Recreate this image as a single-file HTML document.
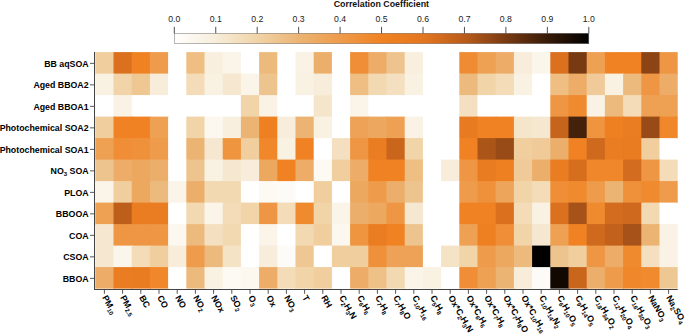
<!DOCTYPE html>
<html><head><meta charset="utf-8"><style>
html,body{margin:0;padding:0;background:#fff;}
body{width:685px;height:334px;position:relative;overflow:hidden;font-family:"Liberation Sans",sans-serif;}
.yl{position:absolute;right:0;font-weight:bold;font-size:8.8px;color:#000;white-space:nowrap;line-height:1;}
.xl{position:absolute;font-weight:bold;font-size:8.8px;color:#000;white-space:nowrap;line-height:1;transform-origin:0 0;transform:rotate(60deg);}
sub{font-size:6px;vertical-align:baseline;position:relative;top:1.8px;}
.cbl{position:absolute;font-size:8.7px;color:#222;white-space:nowrap;line-height:1;}
</style></head><body>

<div style="position:absolute;left:174.30px;top:33.30px;width:414.50px;height:10.30px;background:linear-gradient(to right,#ffffff 0.00%,#f7edda 10.00%,#f1d4a8 20.00%,#ecb473 30.00%,#ee9b4b 40.00%,#f08223 50.00%,#e47620 60.00%,#b95c1a 70.00%,#783a12 80.00%,#371b08 90.00%,#000000 100.00%)"></div>
<svg width="685" height="334" style="position:absolute;left:0;top:0">
<rect x="174.30" y="33.30" width="414.50" height="10.30" fill="none" stroke="#888" stroke-width="0.6"/>
<line x1="174.30" x2="174.30" y1="26.9" y2="33.30" stroke="#222" stroke-width="0.8"/>
<line x1="215.75" x2="215.75" y1="26.9" y2="33.30" stroke="#222" stroke-width="0.8"/>
<line x1="257.20" x2="257.20" y1="26.9" y2="33.30" stroke="#222" stroke-width="0.8"/>
<line x1="298.65" x2="298.65" y1="26.9" y2="33.30" stroke="#222" stroke-width="0.8"/>
<line x1="340.10" x2="340.10" y1="26.9" y2="33.30" stroke="#222" stroke-width="0.8"/>
<line x1="381.55" x2="381.55" y1="26.9" y2="33.30" stroke="#222" stroke-width="0.8"/>
<line x1="423.00" x2="423.00" y1="26.9" y2="33.30" stroke="#222" stroke-width="0.8"/>
<line x1="464.45" x2="464.45" y1="26.9" y2="33.30" stroke="#222" stroke-width="0.8"/>
<line x1="505.90" x2="505.90" y1="26.9" y2="33.30" stroke="#222" stroke-width="0.8"/>
<line x1="547.35" x2="547.35" y1="26.9" y2="33.30" stroke="#222" stroke-width="0.8"/>
<line x1="588.80" x2="588.80" y1="26.9" y2="33.30" stroke="#222" stroke-width="0.8"/>
<rect x="95.30" y="52.10" width="19.20" height="22.50" fill="#f0ce9d"/>
<rect x="113.50" y="52.10" width="19.20" height="22.50" fill="#db711f"/>
<rect x="131.70" y="52.10" width="19.20" height="22.50" fill="#f08223"/>
<rect x="149.90" y="52.10" width="19.20" height="22.50" fill="#ee9b4b"/>
<rect x="168.10" y="52.10" width="19.20" height="22.50" fill="#ffffff"/>
<rect x="186.30" y="52.10" width="19.20" height="22.50" fill="#eebe83"/>
<rect x="204.50" y="52.10" width="19.20" height="22.50" fill="#f8efde"/>
<rect x="222.70" y="52.10" width="19.20" height="22.50" fill="#faf4e9"/>
<rect x="240.90" y="52.10" width="19.20" height="22.50" fill="#ffffff"/>
<rect x="259.10" y="52.10" width="19.20" height="22.50" fill="#edba7e"/>
<rect x="277.30" y="52.10" width="19.20" height="22.50" fill="#ffffff"/>
<rect x="295.50" y="52.10" width="19.20" height="22.50" fill="#f9f2e5"/>
<rect x="313.70" y="52.10" width="19.20" height="22.50" fill="#ecaf6b"/>
<rect x="331.90" y="52.10" width="19.20" height="22.50" fill="#ffffff"/>
<rect x="350.10" y="52.10" width="19.20" height="22.50" fill="#ef8e37"/>
<rect x="368.30" y="52.10" width="19.20" height="22.50" fill="#edac67"/>
<rect x="386.50" y="52.10" width="19.20" height="22.50" fill="#eec48e"/>
<rect x="404.70" y="52.10" width="19.20" height="22.50" fill="#f8efde"/>
<rect x="422.90" y="52.10" width="19.20" height="22.50" fill="#ffffff"/>
<rect x="441.10" y="52.10" width="19.20" height="22.50" fill="#ffffff"/>
<rect x="459.30" y="52.10" width="19.20" height="22.50" fill="#ef8c33"/>
<rect x="477.50" y="52.10" width="19.20" height="22.50" fill="#eea053"/>
<rect x="495.70" y="52.10" width="19.20" height="22.50" fill="#edac67"/>
<rect x="513.90" y="52.10" width="19.20" height="22.50" fill="#f7edda"/>
<rect x="532.10" y="52.10" width="19.20" height="22.50" fill="#fbf6ec"/>
<rect x="550.30" y="52.10" width="19.20" height="22.50" fill="#db711f"/>
<rect x="568.50" y="52.10" width="19.20" height="22.50" fill="#783a12"/>
<rect x="586.70" y="52.10" width="19.20" height="22.50" fill="#eea053"/>
<rect x="604.90" y="52.10" width="19.20" height="22.50" fill="#f08223"/>
<rect x="623.10" y="52.10" width="19.20" height="22.50" fill="#f08223"/>
<rect x="641.30" y="52.10" width="19.20" height="22.50" fill="#8c4414"/>
<rect x="659.50" y="52.10" width="18.20" height="22.50" fill="#ee9643"/>
<rect x="95.30" y="73.60" width="19.20" height="22.50" fill="#f9f1e1"/>
<rect x="113.50" y="73.60" width="19.20" height="22.50" fill="#f1d4a8"/>
<rect x="131.70" y="73.60" width="19.20" height="22.50" fill="#efc793"/>
<rect x="149.90" y="73.60" width="19.20" height="22.50" fill="#f7edda"/>
<rect x="168.10" y="73.60" width="19.20" height="22.50" fill="#ffffff"/>
<rect x="186.30" y="73.60" width="19.20" height="22.50" fill="#f3dcb7"/>
<rect x="204.50" y="73.60" width="19.20" height="22.50" fill="#f9f1e1"/>
<rect x="222.70" y="73.60" width="19.20" height="22.50" fill="#f6e8d0"/>
<rect x="240.90" y="73.60" width="19.20" height="22.50" fill="#faf4e9"/>
<rect x="259.10" y="73.60" width="19.20" height="22.50" fill="#eec48e"/>
<rect x="277.30" y="73.60" width="19.20" height="22.50" fill="#ffffff"/>
<rect x="295.50" y="73.60" width="19.20" height="22.50" fill="#f9f1e1"/>
<rect x="313.70" y="73.60" width="19.20" height="22.50" fill="#f7edda"/>
<rect x="331.90" y="73.60" width="19.20" height="22.50" fill="#ffffff"/>
<rect x="350.10" y="73.60" width="19.20" height="22.50" fill="#eebe83"/>
<rect x="368.30" y="73.60" width="19.20" height="22.50" fill="#f2d9b2"/>
<rect x="386.50" y="73.60" width="19.20" height="22.50" fill="#f4e0c1"/>
<rect x="404.70" y="73.60" width="19.20" height="22.50" fill="#f9f1e1"/>
<rect x="422.90" y="73.60" width="19.20" height="22.50" fill="#ffffff"/>
<rect x="441.10" y="73.60" width="19.20" height="22.50" fill="#ffffff"/>
<rect x="459.30" y="73.60" width="19.20" height="22.50" fill="#edba7e"/>
<rect x="477.50" y="73.60" width="19.20" height="22.50" fill="#f1d4a8"/>
<rect x="495.70" y="73.60" width="19.20" height="22.50" fill="#f3dcb7"/>
<rect x="513.90" y="73.60" width="19.20" height="22.50" fill="#f9f1e1"/>
<rect x="532.10" y="73.60" width="19.20" height="22.50" fill="#ffffff"/>
<rect x="550.30" y="73.60" width="19.20" height="22.50" fill="#eebe83"/>
<rect x="568.50" y="73.60" width="19.20" height="22.50" fill="#edac67"/>
<rect x="586.70" y="73.60" width="19.20" height="22.50" fill="#f0ca98"/>
<rect x="604.90" y="73.60" width="19.20" height="22.50" fill="#f9f1e1"/>
<rect x="623.10" y="73.60" width="19.20" height="22.50" fill="#edba7e"/>
<rect x="641.30" y="73.60" width="19.20" height="22.50" fill="#ee9643"/>
<rect x="659.50" y="73.60" width="18.20" height="22.50" fill="#edac67"/>
<rect x="95.30" y="95.10" width="19.20" height="22.50" fill="#ffffff"/>
<rect x="113.50" y="95.10" width="19.20" height="22.50" fill="#f9f2e5"/>
<rect x="131.70" y="95.10" width="19.20" height="22.50" fill="#ffffff"/>
<rect x="149.90" y="95.10" width="19.20" height="22.50" fill="#ffffff"/>
<rect x="168.10" y="95.10" width="19.20" height="22.50" fill="#ffffff"/>
<rect x="186.30" y="95.10" width="19.20" height="22.50" fill="#ffffff"/>
<rect x="204.50" y="95.10" width="19.20" height="22.50" fill="#ffffff"/>
<rect x="222.70" y="95.10" width="19.20" height="22.50" fill="#ffffff"/>
<rect x="240.90" y="95.10" width="19.20" height="22.50" fill="#f1d4a8"/>
<rect x="259.10" y="95.10" width="19.20" height="22.50" fill="#f9f2e5"/>
<rect x="277.30" y="95.10" width="19.20" height="22.50" fill="#ffffff"/>
<rect x="295.50" y="95.10" width="19.20" height="22.50" fill="#ffffff"/>
<rect x="313.70" y="95.10" width="19.20" height="22.50" fill="#f5e6cb"/>
<rect x="331.90" y="95.10" width="19.20" height="22.50" fill="#ffffff"/>
<rect x="350.10" y="95.10" width="19.20" height="22.50" fill="#faf4e9"/>
<rect x="368.30" y="95.10" width="19.20" height="22.50" fill="#ffffff"/>
<rect x="386.50" y="95.10" width="19.20" height="22.50" fill="#ffffff"/>
<rect x="404.70" y="95.10" width="19.20" height="22.50" fill="#ffffff"/>
<rect x="422.90" y="95.10" width="19.20" height="22.50" fill="#ffffff"/>
<rect x="441.10" y="95.10" width="19.20" height="22.50" fill="#ffffff"/>
<rect x="459.30" y="95.10" width="19.20" height="22.50" fill="#f4e0c1"/>
<rect x="477.50" y="95.10" width="19.20" height="22.50" fill="#ffffff"/>
<rect x="495.70" y="95.10" width="19.20" height="22.50" fill="#ffffff"/>
<rect x="513.90" y="95.10" width="19.20" height="22.50" fill="#ffffff"/>
<rect x="532.10" y="95.10" width="19.20" height="22.50" fill="#ffffff"/>
<rect x="550.30" y="95.10" width="19.20" height="22.50" fill="#ee9643"/>
<rect x="568.50" y="95.10" width="19.20" height="22.50" fill="#ef8a2f"/>
<rect x="586.70" y="95.10" width="19.20" height="22.50" fill="#f9f2e5"/>
<rect x="604.90" y="95.10" width="19.20" height="22.50" fill="#edba7e"/>
<rect x="623.10" y="95.10" width="19.20" height="22.50" fill="#f3dcb7"/>
<rect x="641.30" y="95.10" width="19.20" height="22.50" fill="#eea053"/>
<rect x="659.50" y="95.10" width="18.20" height="22.50" fill="#eea053"/>
<rect x="95.30" y="116.60" width="19.20" height="22.50" fill="#f0ce9d"/>
<rect x="113.50" y="116.60" width="19.20" height="22.50" fill="#f08223"/>
<rect x="131.70" y="116.60" width="19.20" height="22.50" fill="#f08223"/>
<rect x="149.90" y="116.60" width="19.20" height="22.50" fill="#eea053"/>
<rect x="168.10" y="116.60" width="19.20" height="22.50" fill="#ffffff"/>
<rect x="186.30" y="116.60" width="19.20" height="22.50" fill="#f1d4a8"/>
<rect x="204.50" y="116.60" width="19.20" height="22.50" fill="#fcf8f0"/>
<rect x="222.70" y="116.60" width="19.20" height="22.50" fill="#f8efde"/>
<rect x="240.90" y="116.60" width="19.20" height="22.50" fill="#ecb473"/>
<rect x="259.10" y="116.60" width="19.20" height="22.50" fill="#ee8022"/>
<rect x="277.30" y="116.60" width="19.20" height="22.50" fill="#f7edda"/>
<rect x="295.50" y="116.60" width="19.20" height="22.50" fill="#ecb473"/>
<rect x="313.70" y="116.60" width="19.20" height="22.50" fill="#f9f1e1"/>
<rect x="331.90" y="116.60" width="19.20" height="22.50" fill="#ffffff"/>
<rect x="350.10" y="116.60" width="19.20" height="22.50" fill="#eda257"/>
<rect x="368.30" y="116.60" width="19.20" height="22.50" fill="#eda85f"/>
<rect x="386.50" y="116.60" width="19.20" height="22.50" fill="#eea053"/>
<rect x="404.70" y="116.60" width="19.20" height="22.50" fill="#f9f2e5"/>
<rect x="422.90" y="116.60" width="19.20" height="22.50" fill="#ffffff"/>
<rect x="441.10" y="116.60" width="19.20" height="22.50" fill="#ffffff"/>
<rect x="459.30" y="116.60" width="19.20" height="22.50" fill="#e87a21"/>
<rect x="477.50" y="116.60" width="19.20" height="22.50" fill="#f08223"/>
<rect x="495.70" y="116.60" width="19.20" height="22.50" fill="#f08223"/>
<rect x="513.90" y="116.60" width="19.20" height="22.50" fill="#f5e6cb"/>
<rect x="532.10" y="116.60" width="19.20" height="22.50" fill="#f6e8d0"/>
<rect x="550.30" y="116.60" width="19.20" height="22.50" fill="#c6641c"/>
<rect x="568.50" y="116.60" width="19.20" height="22.50" fill="#44210a"/>
<rect x="586.70" y="116.60" width="19.20" height="22.50" fill="#ef943f"/>
<rect x="604.90" y="116.60" width="19.20" height="22.50" fill="#ee8022"/>
<rect x="623.10" y="116.60" width="19.20" height="22.50" fill="#ea7c22"/>
<rect x="641.30" y="116.60" width="19.20" height="22.50" fill="#984b16"/>
<rect x="659.50" y="116.60" width="18.20" height="22.50" fill="#f0872b"/>
<rect x="95.30" y="138.10" width="19.20" height="22.50" fill="#eea053"/>
<rect x="113.50" y="138.10" width="19.20" height="22.50" fill="#ef8e37"/>
<rect x="131.70" y="138.10" width="19.20" height="22.50" fill="#ef913b"/>
<rect x="149.90" y="138.10" width="19.20" height="22.50" fill="#ee9b4b"/>
<rect x="168.10" y="138.10" width="19.20" height="22.50" fill="#ffffff"/>
<rect x="186.30" y="138.10" width="19.20" height="22.50" fill="#ecb473"/>
<rect x="204.50" y="138.10" width="19.20" height="22.50" fill="#f6e8d0"/>
<rect x="222.70" y="138.10" width="19.20" height="22.50" fill="#ef943f"/>
<rect x="240.90" y="138.10" width="19.20" height="22.50" fill="#f0ce9d"/>
<rect x="259.10" y="138.10" width="19.20" height="22.50" fill="#f0872b"/>
<rect x="277.30" y="138.10" width="19.20" height="22.50" fill="#f9f1e1"/>
<rect x="295.50" y="138.10" width="19.20" height="22.50" fill="#f08223"/>
<rect x="313.70" y="138.10" width="19.20" height="22.50" fill="#ffffff"/>
<rect x="331.90" y="138.10" width="19.20" height="22.50" fill="#f4e0c1"/>
<rect x="350.10" y="138.10" width="19.20" height="22.50" fill="#ee9643"/>
<rect x="368.30" y="138.10" width="19.20" height="22.50" fill="#ea7c22"/>
<rect x="386.50" y="138.10" width="19.20" height="22.50" fill="#ca661c"/>
<rect x="404.70" y="138.10" width="19.20" height="22.50" fill="#f1d4a8"/>
<rect x="422.90" y="138.10" width="19.20" height="22.50" fill="#ffffff"/>
<rect x="441.10" y="138.10" width="19.20" height="22.50" fill="#ffffff"/>
<rect x="459.30" y="138.10" width="19.20" height="22.50" fill="#f08223"/>
<rect x="477.50" y="138.10" width="19.20" height="22.50" fill="#ac5518"/>
<rect x="495.70" y="138.10" width="19.20" height="22.50" fill="#984b16"/>
<rect x="513.90" y="138.10" width="19.20" height="22.50" fill="#f0ce9d"/>
<rect x="532.10" y="138.10" width="19.20" height="22.50" fill="#f0ca98"/>
<rect x="550.30" y="138.10" width="19.20" height="22.50" fill="#ecaf6b"/>
<rect x="568.50" y="138.10" width="19.20" height="22.50" fill="#f08223"/>
<rect x="586.70" y="138.10" width="19.20" height="22.50" fill="#ce691d"/>
<rect x="604.90" y="138.10" width="19.20" height="22.50" fill="#ea7c22"/>
<rect x="623.10" y="138.10" width="19.20" height="22.50" fill="#e97b21"/>
<rect x="641.30" y="138.10" width="19.20" height="22.50" fill="#f0ce9d"/>
<rect x="659.50" y="138.10" width="18.20" height="22.50" fill="#ffffff"/>
<rect x="95.30" y="159.60" width="19.20" height="22.50" fill="#eec48e"/>
<rect x="113.50" y="159.60" width="19.20" height="22.50" fill="#edac67"/>
<rect x="131.70" y="159.60" width="19.20" height="22.50" fill="#eda85f"/>
<rect x="149.90" y="159.60" width="19.20" height="22.50" fill="#ecaf6b"/>
<rect x="168.10" y="159.60" width="19.20" height="22.50" fill="#ffffff"/>
<rect x="186.30" y="159.60" width="19.20" height="22.50" fill="#eec48e"/>
<rect x="204.50" y="159.60" width="19.20" height="22.50" fill="#f9f1e1"/>
<rect x="222.70" y="159.60" width="19.20" height="22.50" fill="#f6e8d0"/>
<rect x="240.90" y="159.60" width="19.20" height="22.50" fill="#f7edda"/>
<rect x="259.10" y="159.60" width="19.20" height="22.50" fill="#eda85f"/>
<rect x="277.30" y="159.60" width="19.20" height="22.50" fill="#f08223"/>
<rect x="295.50" y="159.60" width="19.20" height="22.50" fill="#edac67"/>
<rect x="313.70" y="159.60" width="19.20" height="22.50" fill="#fdfaf4"/>
<rect x="331.90" y="159.60" width="19.20" height="22.50" fill="#f0ce9d"/>
<rect x="350.10" y="159.60" width="19.20" height="22.50" fill="#edac67"/>
<rect x="368.30" y="159.60" width="19.20" height="22.50" fill="#f08223"/>
<rect x="386.50" y="159.60" width="19.20" height="22.50" fill="#f08223"/>
<rect x="404.70" y="159.60" width="19.20" height="22.50" fill="#eebe83"/>
<rect x="422.90" y="159.60" width="19.20" height="22.50" fill="#ffffff"/>
<rect x="441.10" y="159.60" width="19.20" height="22.50" fill="#f7edda"/>
<rect x="459.30" y="159.60" width="19.20" height="22.50" fill="#ee9643"/>
<rect x="477.50" y="159.60" width="19.20" height="22.50" fill="#e97b21"/>
<rect x="495.70" y="159.60" width="19.20" height="22.50" fill="#ee8022"/>
<rect x="513.90" y="159.60" width="19.20" height="22.50" fill="#f0ca98"/>
<rect x="532.10" y="159.60" width="19.20" height="22.50" fill="#ecaf6b"/>
<rect x="550.30" y="159.60" width="19.20" height="22.50" fill="#ea7c22"/>
<rect x="568.50" y="159.60" width="19.20" height="22.50" fill="#d76e1e"/>
<rect x="586.70" y="159.60" width="19.20" height="22.50" fill="#f0872b"/>
<rect x="604.90" y="159.60" width="19.20" height="22.50" fill="#f0872b"/>
<rect x="623.10" y="159.60" width="19.20" height="22.50" fill="#d36c1e"/>
<rect x="641.30" y="159.60" width="19.20" height="22.50" fill="#ee9643"/>
<rect x="659.50" y="159.60" width="18.20" height="22.50" fill="#f3dcb7"/>
<rect x="95.30" y="181.10" width="19.20" height="22.50" fill="#faf4e9"/>
<rect x="113.50" y="181.10" width="19.20" height="22.50" fill="#f0ce9d"/>
<rect x="131.70" y="181.10" width="19.20" height="22.50" fill="#eda85f"/>
<rect x="149.90" y="181.10" width="19.20" height="22.50" fill="#edba7e"/>
<rect x="168.10" y="181.10" width="19.20" height="22.50" fill="#faf4e9"/>
<rect x="186.30" y="181.10" width="19.20" height="22.50" fill="#ecaf6b"/>
<rect x="204.50" y="181.10" width="19.20" height="22.50" fill="#f2d9b2"/>
<rect x="222.70" y="181.10" width="19.20" height="22.50" fill="#f2d9b2"/>
<rect x="240.90" y="181.10" width="19.20" height="22.50" fill="#ffffff"/>
<rect x="259.10" y="181.10" width="19.20" height="22.50" fill="#fdfaf4"/>
<rect x="277.30" y="181.10" width="19.20" height="22.50" fill="#fdfbf8"/>
<rect x="295.50" y="181.10" width="19.20" height="22.50" fill="#ffffff"/>
<rect x="313.70" y="181.10" width="19.20" height="22.50" fill="#f0ce9d"/>
<rect x="331.90" y="181.10" width="19.20" height="22.50" fill="#ffffff"/>
<rect x="350.10" y="181.10" width="19.20" height="22.50" fill="#eda85f"/>
<rect x="368.30" y="181.10" width="19.20" height="22.50" fill="#ee9b4b"/>
<rect x="386.50" y="181.10" width="19.20" height="22.50" fill="#ecaf6b"/>
<rect x="404.70" y="181.10" width="19.20" height="22.50" fill="#eec48e"/>
<rect x="422.90" y="181.10" width="19.20" height="22.50" fill="#ffffff"/>
<rect x="441.10" y="181.10" width="19.20" height="22.50" fill="#ffffff"/>
<rect x="459.30" y="181.10" width="19.20" height="22.50" fill="#ee9b4b"/>
<rect x="477.50" y="181.10" width="19.20" height="22.50" fill="#ef913b"/>
<rect x="495.70" y="181.10" width="19.20" height="22.50" fill="#eda55b"/>
<rect x="513.90" y="181.10" width="19.20" height="22.50" fill="#f1d4a8"/>
<rect x="532.10" y="181.10" width="19.20" height="22.50" fill="#f3dcb7"/>
<rect x="550.30" y="181.10" width="19.20" height="22.50" fill="#ef8e37"/>
<rect x="568.50" y="181.10" width="19.20" height="22.50" fill="#ef8a2f"/>
<rect x="586.70" y="181.10" width="19.20" height="22.50" fill="#ee9b4b"/>
<rect x="604.90" y="181.10" width="19.20" height="22.50" fill="#ecb473"/>
<rect x="623.10" y="181.10" width="19.20" height="22.50" fill="#ef913b"/>
<rect x="641.30" y="181.10" width="19.20" height="22.50" fill="#ef8a2f"/>
<rect x="659.50" y="181.10" width="18.20" height="22.50" fill="#ee9b4b"/>
<rect x="95.30" y="202.60" width="19.20" height="22.50" fill="#eea053"/>
<rect x="113.50" y="202.60" width="19.20" height="22.50" fill="#bd5f1b"/>
<rect x="131.70" y="202.60" width="19.20" height="22.50" fill="#ea7c22"/>
<rect x="149.90" y="202.60" width="19.20" height="22.50" fill="#ea7c22"/>
<rect x="168.10" y="202.60" width="19.20" height="22.50" fill="#ffffff"/>
<rect x="186.30" y="202.60" width="19.20" height="22.50" fill="#f2d9b2"/>
<rect x="204.50" y="202.60" width="19.20" height="22.50" fill="#faf4e9"/>
<rect x="222.70" y="202.60" width="19.20" height="22.50" fill="#f3dcb7"/>
<rect x="240.90" y="202.60" width="19.20" height="22.50" fill="#f1d4a8"/>
<rect x="259.10" y="202.60" width="19.20" height="22.50" fill="#ee9643"/>
<rect x="277.30" y="202.60" width="19.20" height="22.50" fill="#f3dcb7"/>
<rect x="295.50" y="202.60" width="19.20" height="22.50" fill="#ef8a2f"/>
<rect x="313.70" y="202.60" width="19.20" height="22.50" fill="#f1d4a8"/>
<rect x="331.90" y="202.60" width="19.20" height="22.50" fill="#faf4e9"/>
<rect x="350.10" y="202.60" width="19.20" height="22.50" fill="#ecaf6b"/>
<rect x="368.30" y="202.60" width="19.20" height="22.50" fill="#eda85f"/>
<rect x="386.50" y="202.60" width="19.20" height="22.50" fill="#ee9643"/>
<rect x="404.70" y="202.60" width="19.20" height="22.50" fill="#f6e8d0"/>
<rect x="422.90" y="202.60" width="19.20" height="22.50" fill="#ffffff"/>
<rect x="441.10" y="202.60" width="19.20" height="22.50" fill="#ffffff"/>
<rect x="459.30" y="202.60" width="19.20" height="22.50" fill="#f08223"/>
<rect x="477.50" y="202.60" width="19.20" height="22.50" fill="#f08223"/>
<rect x="495.70" y="202.60" width="19.20" height="22.50" fill="#db711f"/>
<rect x="513.90" y="202.60" width="19.20" height="22.50" fill="#f3dcb7"/>
<rect x="532.10" y="202.60" width="19.20" height="22.50" fill="#f9f1e1"/>
<rect x="550.30" y="202.60" width="19.20" height="22.50" fill="#db711f"/>
<rect x="568.50" y="202.60" width="19.20" height="22.50" fill="#a65218"/>
<rect x="586.70" y="202.60" width="19.20" height="22.50" fill="#ef8a2f"/>
<rect x="604.90" y="202.60" width="19.20" height="22.50" fill="#d36c1e"/>
<rect x="623.10" y="202.60" width="19.20" height="22.50" fill="#ce691d"/>
<rect x="641.30" y="202.60" width="19.20" height="22.50" fill="#f2d9b2"/>
<rect x="659.50" y="202.60" width="18.20" height="22.50" fill="#ffffff"/>
<rect x="95.30" y="224.10" width="19.20" height="22.50" fill="#f6e8d0"/>
<rect x="113.50" y="224.10" width="19.20" height="22.50" fill="#ee9643"/>
<rect x="131.70" y="224.10" width="19.20" height="22.50" fill="#ee9643"/>
<rect x="149.90" y="224.10" width="19.20" height="22.50" fill="#ee9643"/>
<rect x="168.10" y="224.10" width="19.20" height="22.50" fill="#fcf8f0"/>
<rect x="186.30" y="224.10" width="19.20" height="22.50" fill="#edba7e"/>
<rect x="204.50" y="224.10" width="19.20" height="22.50" fill="#f4e0c1"/>
<rect x="222.70" y="224.10" width="19.20" height="22.50" fill="#f2d9b2"/>
<rect x="240.90" y="224.10" width="19.20" height="22.50" fill="#ffffff"/>
<rect x="259.10" y="224.10" width="19.20" height="22.50" fill="#faf4e9"/>
<rect x="277.30" y="224.10" width="19.20" height="22.50" fill="#ffffff"/>
<rect x="295.50" y="224.10" width="19.20" height="22.50" fill="#f2d9b2"/>
<rect x="313.70" y="224.10" width="19.20" height="22.50" fill="#f0ce9d"/>
<rect x="331.90" y="224.10" width="19.20" height="22.50" fill="#fcf8f0"/>
<rect x="350.10" y="224.10" width="19.20" height="22.50" fill="#ef943f"/>
<rect x="368.30" y="224.10" width="19.20" height="22.50" fill="#ea7c22"/>
<rect x="386.50" y="224.10" width="19.20" height="22.50" fill="#f08223"/>
<rect x="404.70" y="224.10" width="19.20" height="22.50" fill="#eec48e"/>
<rect x="422.90" y="224.10" width="19.20" height="22.50" fill="#ffffff"/>
<rect x="441.10" y="224.10" width="19.20" height="22.50" fill="#ffffff"/>
<rect x="459.30" y="224.10" width="19.20" height="22.50" fill="#eea053"/>
<rect x="477.50" y="224.10" width="19.20" height="22.50" fill="#ee8022"/>
<rect x="495.70" y="224.10" width="19.20" height="22.50" fill="#ef8e37"/>
<rect x="513.90" y="224.10" width="19.20" height="22.50" fill="#f1d4a8"/>
<rect x="532.10" y="224.10" width="19.20" height="22.50" fill="#f6e8d0"/>
<rect x="550.30" y="224.10" width="19.20" height="22.50" fill="#eea053"/>
<rect x="568.50" y="224.10" width="19.20" height="22.50" fill="#f08223"/>
<rect x="586.70" y="224.10" width="19.20" height="22.50" fill="#ce691d"/>
<rect x="604.90" y="224.10" width="19.20" height="22.50" fill="#c2611b"/>
<rect x="623.10" y="224.10" width="19.20" height="22.50" fill="#a65218"/>
<rect x="641.30" y="224.10" width="19.20" height="22.50" fill="#ecb473"/>
<rect x="659.50" y="224.10" width="18.20" height="22.50" fill="#f9f2e5"/>
<rect x="95.30" y="245.60" width="19.20" height="22.50" fill="#f6e8d0"/>
<rect x="113.50" y="245.60" width="19.20" height="22.50" fill="#fbf6ec"/>
<rect x="131.70" y="245.60" width="19.20" height="22.50" fill="#f3dcb7"/>
<rect x="149.90" y="245.60" width="19.20" height="22.50" fill="#f0ce9d"/>
<rect x="168.10" y="245.60" width="19.20" height="22.50" fill="#f7edda"/>
<rect x="186.30" y="245.60" width="19.20" height="22.50" fill="#ee9b4b"/>
<rect x="204.50" y="245.60" width="19.20" height="22.50" fill="#edba7e"/>
<rect x="222.70" y="245.60" width="19.20" height="22.50" fill="#f5e3c6"/>
<rect x="240.90" y="245.60" width="19.20" height="22.50" fill="#ffffff"/>
<rect x="259.10" y="245.60" width="19.20" height="22.50" fill="#f7edda"/>
<rect x="277.30" y="245.60" width="19.20" height="22.50" fill="#fdfbf8"/>
<rect x="295.50" y="245.60" width="19.20" height="22.50" fill="#efc793"/>
<rect x="313.70" y="245.60" width="19.20" height="22.50" fill="#ffffff"/>
<rect x="331.90" y="245.60" width="19.20" height="22.50" fill="#f0ce9d"/>
<rect x="350.10" y="245.60" width="19.20" height="22.50" fill="#f0ce9d"/>
<rect x="368.30" y="245.60" width="19.20" height="22.50" fill="#ef913b"/>
<rect x="386.50" y="245.60" width="19.20" height="22.50" fill="#eda257"/>
<rect x="404.70" y="245.60" width="19.20" height="22.50" fill="#eda257"/>
<rect x="422.90" y="245.60" width="19.20" height="22.50" fill="#ffffff"/>
<rect x="441.10" y="245.60" width="19.20" height="22.50" fill="#f5e3c6"/>
<rect x="459.30" y="245.60" width="19.20" height="22.50" fill="#f1d4a8"/>
<rect x="477.50" y="245.60" width="19.20" height="22.50" fill="#ee9b4b"/>
<rect x="495.70" y="245.60" width="19.20" height="22.50" fill="#eda85f"/>
<rect x="513.90" y="245.60" width="19.20" height="22.50" fill="#edba7e"/>
<rect x="532.10" y="245.60" width="19.20" height="22.50" fill="#000000"/>
<rect x="550.30" y="245.60" width="19.20" height="22.50" fill="#eec48e"/>
<rect x="568.50" y="245.60" width="19.20" height="22.50" fill="#f0ce9d"/>
<rect x="586.70" y="245.60" width="19.20" height="22.50" fill="#ee9643"/>
<rect x="604.90" y="245.60" width="19.20" height="22.50" fill="#edac67"/>
<rect x="623.10" y="245.60" width="19.20" height="22.50" fill="#ef8a2f"/>
<rect x="641.30" y="245.60" width="19.20" height="22.50" fill="#f4e0c1"/>
<rect x="659.50" y="245.60" width="18.20" height="22.50" fill="#f9f2e5"/>
<rect x="95.30" y="267.10" width="19.20" height="21.50" fill="#edac67"/>
<rect x="113.50" y="267.10" width="19.20" height="21.50" fill="#ea7c22"/>
<rect x="131.70" y="267.10" width="19.20" height="21.50" fill="#e97b21"/>
<rect x="149.90" y="267.10" width="19.20" height="21.50" fill="#f0872b"/>
<rect x="168.10" y="267.10" width="19.20" height="21.50" fill="#ffffff"/>
<rect x="186.30" y="267.10" width="19.20" height="21.50" fill="#edba7e"/>
<rect x="204.50" y="267.10" width="19.20" height="21.50" fill="#f9f1e1"/>
<rect x="222.70" y="267.10" width="19.20" height="21.50" fill="#fdfaf4"/>
<rect x="240.90" y="267.10" width="19.20" height="21.50" fill="#fcf8f0"/>
<rect x="259.10" y="267.10" width="19.20" height="21.50" fill="#edac67"/>
<rect x="277.30" y="267.10" width="19.20" height="21.50" fill="#f3dcb7"/>
<rect x="295.50" y="267.10" width="19.20" height="21.50" fill="#f1d4a8"/>
<rect x="313.70" y="267.10" width="19.20" height="21.50" fill="#f0ce9d"/>
<rect x="331.90" y="267.10" width="19.20" height="21.50" fill="#ffffff"/>
<rect x="350.10" y="267.10" width="19.20" height="21.50" fill="#edac67"/>
<rect x="368.30" y="267.10" width="19.20" height="21.50" fill="#eec188"/>
<rect x="386.50" y="267.10" width="19.20" height="21.50" fill="#f2d9b2"/>
<rect x="404.70" y="267.10" width="19.20" height="21.50" fill="#faf4e9"/>
<rect x="422.90" y="267.10" width="19.20" height="21.50" fill="#f9f1e1"/>
<rect x="441.10" y="267.10" width="19.20" height="21.50" fill="#ffffff"/>
<rect x="459.30" y="267.10" width="19.20" height="21.50" fill="#ef8e37"/>
<rect x="477.50" y="267.10" width="19.20" height="21.50" fill="#eea053"/>
<rect x="495.70" y="267.10" width="19.20" height="21.50" fill="#ecb473"/>
<rect x="513.90" y="267.10" width="19.20" height="21.50" fill="#f7edda"/>
<rect x="532.10" y="267.10" width="19.20" height="21.50" fill="#fdfbf8"/>
<rect x="550.30" y="267.10" width="19.20" height="21.50" fill="#110802"/>
<rect x="568.50" y="267.10" width="19.20" height="21.50" fill="#ca661c"/>
<rect x="586.70" y="267.10" width="19.20" height="21.50" fill="#ecaf6b"/>
<rect x="604.90" y="267.10" width="19.20" height="21.50" fill="#ee9b4b"/>
<rect x="623.10" y="267.10" width="19.20" height="21.50" fill="#f0872b"/>
<rect x="641.30" y="267.10" width="19.20" height="21.50" fill="#ef8a2f"/>
<rect x="659.50" y="267.10" width="18.20" height="21.50" fill="#efc793"/>
<line x1="94.5" x2="94.5" y1="51.90" y2="289.9" stroke="#444" stroke-width="1.05"/>
<line x1="94" x2="677.70" y1="289.4" y2="289.4" stroke="#444" stroke-width="1.05"/>
<line x1="90" x2="94.5" y1="63.35" y2="63.35" stroke="#444" stroke-width="0.9"/>
<line x1="90" x2="94.5" y1="84.85" y2="84.85" stroke="#444" stroke-width="0.9"/>
<line x1="90" x2="94.5" y1="106.35" y2="106.35" stroke="#444" stroke-width="0.9"/>
<line x1="90" x2="94.5" y1="127.85" y2="127.85" stroke="#444" stroke-width="0.9"/>
<line x1="90" x2="94.5" y1="149.35" y2="149.35" stroke="#444" stroke-width="0.9"/>
<line x1="90" x2="94.5" y1="170.85" y2="170.85" stroke="#444" stroke-width="0.9"/>
<line x1="90" x2="94.5" y1="192.35" y2="192.35" stroke="#444" stroke-width="0.9"/>
<line x1="90" x2="94.5" y1="213.85" y2="213.85" stroke="#444" stroke-width="0.9"/>
<line x1="90" x2="94.5" y1="235.35" y2="235.35" stroke="#444" stroke-width="0.9"/>
<line x1="90" x2="94.5" y1="256.85" y2="256.85" stroke="#444" stroke-width="0.9"/>
<line x1="90" x2="94.5" y1="278.35" y2="278.35" stroke="#444" stroke-width="0.9"/>
<line x1="104.40" x2="104.40" y1="289.4" y2="293.8" stroke="#444" stroke-width="0.9"/>
<line x1="122.60" x2="122.60" y1="289.4" y2="293.8" stroke="#444" stroke-width="0.9"/>
<line x1="140.80" x2="140.80" y1="289.4" y2="293.8" stroke="#444" stroke-width="0.9"/>
<line x1="159.00" x2="159.00" y1="289.4" y2="293.8" stroke="#444" stroke-width="0.9"/>
<line x1="177.20" x2="177.20" y1="289.4" y2="293.8" stroke="#444" stroke-width="0.9"/>
<line x1="195.40" x2="195.40" y1="289.4" y2="293.8" stroke="#444" stroke-width="0.9"/>
<line x1="213.60" x2="213.60" y1="289.4" y2="293.8" stroke="#444" stroke-width="0.9"/>
<line x1="231.80" x2="231.80" y1="289.4" y2="293.8" stroke="#444" stroke-width="0.9"/>
<line x1="250.00" x2="250.00" y1="289.4" y2="293.8" stroke="#444" stroke-width="0.9"/>
<line x1="268.20" x2="268.20" y1="289.4" y2="293.8" stroke="#444" stroke-width="0.9"/>
<line x1="286.40" x2="286.40" y1="289.4" y2="293.8" stroke="#444" stroke-width="0.9"/>
<line x1="304.60" x2="304.60" y1="289.4" y2="293.8" stroke="#444" stroke-width="0.9"/>
<line x1="322.80" x2="322.80" y1="289.4" y2="293.8" stroke="#444" stroke-width="0.9"/>
<line x1="341.00" x2="341.00" y1="289.4" y2="293.8" stroke="#444" stroke-width="0.9"/>
<line x1="359.20" x2="359.20" y1="289.4" y2="293.8" stroke="#444" stroke-width="0.9"/>
<line x1="377.40" x2="377.40" y1="289.4" y2="293.8" stroke="#444" stroke-width="0.9"/>
<line x1="395.60" x2="395.60" y1="289.4" y2="293.8" stroke="#444" stroke-width="0.9"/>
<line x1="413.80" x2="413.80" y1="289.4" y2="293.8" stroke="#444" stroke-width="0.9"/>
<line x1="432.00" x2="432.00" y1="289.4" y2="293.8" stroke="#444" stroke-width="0.9"/>
<line x1="450.20" x2="450.20" y1="289.4" y2="293.8" stroke="#444" stroke-width="0.9"/>
<line x1="468.40" x2="468.40" y1="289.4" y2="293.8" stroke="#444" stroke-width="0.9"/>
<line x1="486.60" x2="486.60" y1="289.4" y2="293.8" stroke="#444" stroke-width="0.9"/>
<line x1="504.80" x2="504.80" y1="289.4" y2="293.8" stroke="#444" stroke-width="0.9"/>
<line x1="523.00" x2="523.00" y1="289.4" y2="293.8" stroke="#444" stroke-width="0.9"/>
<line x1="541.20" x2="541.20" y1="289.4" y2="293.8" stroke="#444" stroke-width="0.9"/>
<line x1="559.40" x2="559.40" y1="289.4" y2="293.8" stroke="#444" stroke-width="0.9"/>
<line x1="577.60" x2="577.60" y1="289.4" y2="293.8" stroke="#444" stroke-width="0.9"/>
<line x1="595.80" x2="595.80" y1="289.4" y2="293.8" stroke="#444" stroke-width="0.9"/>
<line x1="614.00" x2="614.00" y1="289.4" y2="293.8" stroke="#444" stroke-width="0.9"/>
<line x1="632.20" x2="632.20" y1="289.4" y2="293.8" stroke="#444" stroke-width="0.9"/>
<line x1="650.40" x2="650.40" y1="289.4" y2="293.8" stroke="#444" stroke-width="0.9"/>
<line x1="668.60" x2="668.60" y1="289.4" y2="293.8" stroke="#444" stroke-width="0.9"/>
</svg>
<div style="position:absolute;left:333.7px;top:0.2px;font-weight:bold;font-size:8.85px;color:#111;white-space:nowrap;line-height:1">Correlation Coefficient</div>
<div class="cbl" style="left:174.30px;top:15px;width:20px;margin-left:-10px;text-align:center">0.0</div>
<div class="cbl" style="left:215.75px;top:15px;width:20px;margin-left:-10px;text-align:center">0.1</div>
<div class="cbl" style="left:257.20px;top:15px;width:20px;margin-left:-10px;text-align:center">0.2</div>
<div class="cbl" style="left:298.65px;top:15px;width:20px;margin-left:-10px;text-align:center">0.3</div>
<div class="cbl" style="left:340.10px;top:15px;width:20px;margin-left:-10px;text-align:center">0.4</div>
<div class="cbl" style="left:381.55px;top:15px;width:20px;margin-left:-10px;text-align:center">0.5</div>
<div class="cbl" style="left:423.00px;top:15px;width:20px;margin-left:-10px;text-align:center">0.6</div>
<div class="cbl" style="left:464.45px;top:15px;width:20px;margin-left:-10px;text-align:center">0.7</div>
<div class="cbl" style="left:505.90px;top:15px;width:20px;margin-left:-10px;text-align:center">0.8</div>
<div class="cbl" style="left:547.35px;top:15px;width:20px;margin-left:-10px;text-align:center">0.9</div>
<div class="cbl" style="left:588.80px;top:15px;width:20px;margin-left:-10px;text-align:center">1.0</div>
<div class="yl" style="right:596.40px;top:59.55px">BB aqSOA</div>
<div class="yl" style="right:596.40px;top:81.05px">Aged BBOA2</div>
<div class="yl" style="right:596.40px;top:102.55px">Aged BBOA1</div>
<div class="yl" style="right:596.40px;top:124.05px">Photochemical SOA2</div>
<div class="yl" style="right:596.40px;top:145.55px">Photochemical SOA1</div>
<div class="yl" style="right:596.40px;top:167.05px">NO<sub>3</sub> SOA</div>
<div class="yl" style="right:596.40px;top:188.55px">PLOA</div>
<div class="yl" style="right:596.40px;top:210.05px">BBOOA</div>
<div class="yl" style="right:596.40px;top:231.55px">COA</div>
<div class="yl" style="right:596.40px;top:253.05px">CSOA</div>
<div class="yl" style="right:596.40px;top:274.55px">BBOA</div>
<div class="xl" style="left:108.20px;top:294.00px">PM<sub>10</sub></div>
<div class="xl" style="left:126.40px;top:294.00px">PM<sub>2.5</sub></div>
<div class="xl" style="left:144.60px;top:294.00px">BC</div>
<div class="xl" style="left:162.80px;top:294.00px">CO</div>
<div class="xl" style="left:181.00px;top:294.00px">NO</div>
<div class="xl" style="left:199.20px;top:294.00px">NO<sub>2</sub></div>
<div class="xl" style="left:217.40px;top:294.00px">NOx</div>
<div class="xl" style="left:235.60px;top:294.00px">SO<sub>2</sub></div>
<div class="xl" style="left:253.80px;top:294.00px">O<sub>3</sub></div>
<div class="xl" style="left:272.00px;top:294.00px">Ox</div>
<div class="xl" style="left:290.20px;top:294.00px">NO<sub>3</sub></div>
<div class="xl" style="left:308.40px;top:294.00px">T</div>
<div class="xl" style="left:326.60px;top:294.00px">RH</div>
<div class="xl" style="left:344.80px;top:294.00px">C<sub>2</sub>H<sub>3</sub>N</div>
<div class="xl" style="left:363.00px;top:294.00px">C<sub>6</sub>H<sub>6</sub></div>
<div class="xl" style="left:381.20px;top:294.00px">C<sub>7</sub>H<sub>8</sub></div>
<div class="xl" style="left:399.40px;top:294.00px">C<sub>7</sub>H<sub>8</sub>O</div>
<div class="xl" style="left:417.60px;top:294.00px">C<sub>10</sub>H<sub>16</sub></div>
<div class="xl" style="left:435.80px;top:294.00px">C<sub>5</sub>H<sub>8</sub></div>
<div class="xl" style="left:454.00px;top:294.00px">Ox*C<sub>2</sub>H<sub>3</sub>N</div>
<div class="xl" style="left:472.20px;top:294.00px">Ox*C<sub>6</sub>H<sub>6</sub></div>
<div class="xl" style="left:490.40px;top:294.00px">Ox*C<sub>7</sub>H<sub>8</sub></div>
<div class="xl" style="left:508.60px;top:294.00px">Ox*C<sub>7</sub>H<sub>8</sub>O</div>
<div class="xl" style="left:526.80px;top:294.00px">Ox*C<sub>10</sub>H<sub>16</sub></div>
<div class="xl" style="left:545.00px;top:294.00px">C<sub>10</sub>H<sub>14</sub>N<sub>2</sub></div>
<div class="xl" style="left:563.20px;top:294.00px">C<sub>6</sub>H<sub>10</sub>O<sub>5</sub></div>
<div class="xl" style="left:581.40px;top:294.00px">C<sub>9</sub>H<sub>14</sub>O<sub>5</sub></div>
<div class="xl" style="left:599.60px;top:294.00px">C<sub>18</sub>H<sub>34</sub>O<sub>2</sub></div>
<div class="xl" style="left:617.80px;top:294.00px">C<sub>12</sub>H<sub>20</sub>O<sub>4</sub></div>
<div class="xl" style="left:636.00px;top:294.00px">C<sub>16</sub>H<sub>30</sub>O<sub>3</sub></div>
<div class="xl" style="left:654.20px;top:294.00px">NaNO<sub>3</sub></div>
<div class="xl" style="left:672.40px;top:294.00px">Na<sub>2</sub>SO<sub>4</sub></div>
</body></html>
